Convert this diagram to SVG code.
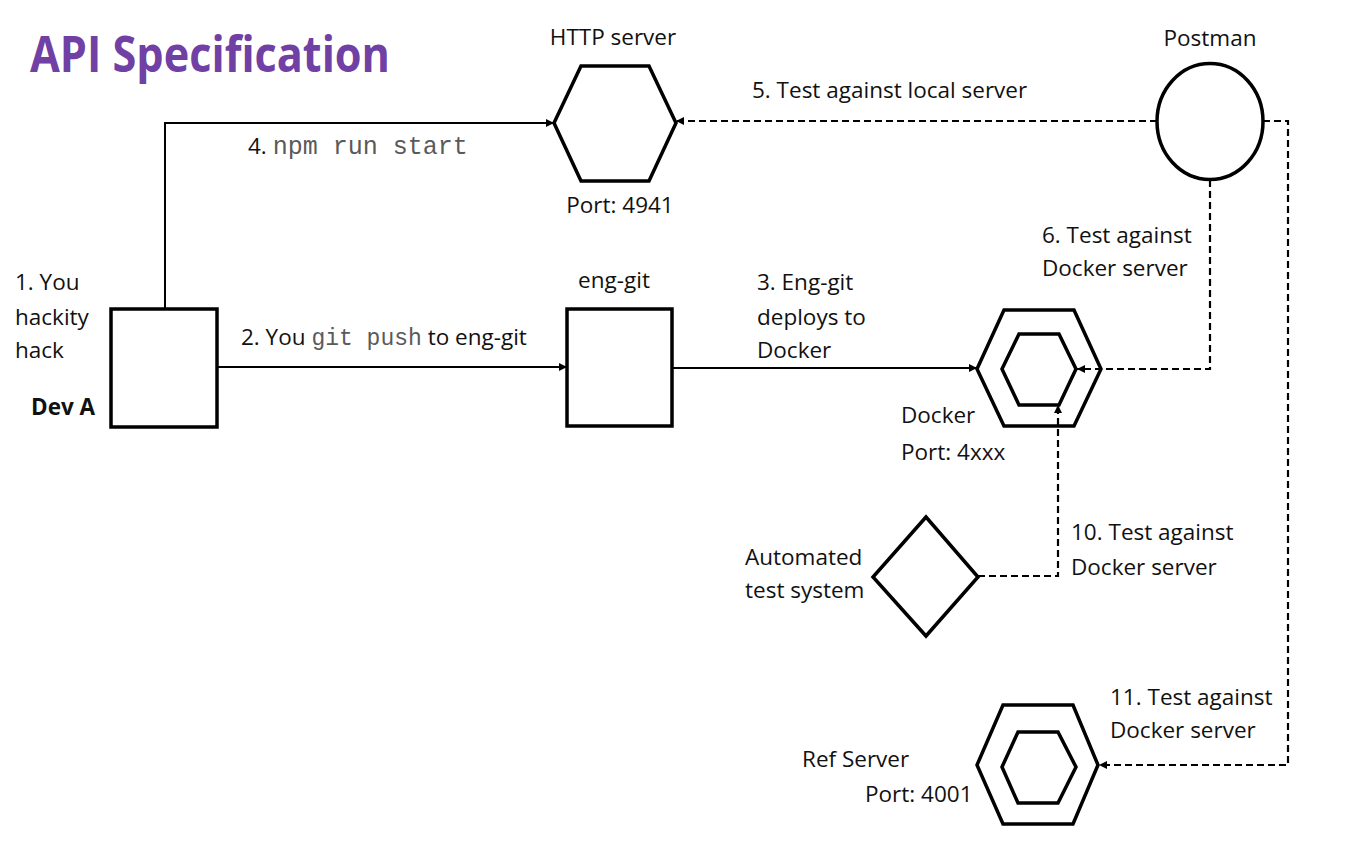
<svg xmlns="http://www.w3.org/2000/svg" width="1364" height="852" viewBox="0 0 1364 852">
<style>
  .t { font-family: "Open Sans", "Liberation Sans", sans-serif; font-size: 22.5px; fill: #111; }
  .m { font-family: "Liberation Mono", "Courier New", monospace; fill: #5a5a5a; }
  .b { font-weight: bold; }
  .shape { fill: #fff; stroke: #000; stroke-width: 3.5; stroke-linejoin: miter; }
  .solid { fill: none; stroke: #000; stroke-width: 2; }
  .dash { fill: none; stroke: #000; stroke-width: 2.2; stroke-dasharray: 7 4; }
</style>
<defs>
  <marker id="arr" viewBox="0 0 10 10" refX="10" refY="5" markerWidth="9" markerHeight="8" markerUnits="userSpaceOnUse" orient="auto">
    <path d="M0,0 L10,5 L0,10 z" fill="#000"/>
  </marker>
</defs>
<rect width="1364" height="852" fill="#fff"/>

<text x="30" y="72" font-family="'Open Sans', 'Liberation Sans', sans-serif" font-weight="bold" font-size="50" fill="#7040a5" textLength="360" lengthAdjust="spacingAndGlyphs">API Specification</text>

<g id="http-server">
  <polygon class="shape" points="554,123 581,66 649,66 676,123 649,181 581,181"/>
  <text class="t" x="613" y="45" text-anchor="middle">HTTP server</text>
  <text class="t" x="620" y="213" text-anchor="middle">Port: 4941</text>
</g>

<g id="postman">
  <ellipse class="shape" cx="1210" cy="121.5" rx="53" ry="58"/>
  <text class="t" x="1210" y="46" text-anchor="middle">Postman</text>
</g>

<g id="dev-a">
  <rect class="shape" x="111" y="309" width="106" height="118"/>
  <text class="t" x="15" y="290">1. You</text>
  <text class="t" x="15" y="325">hackity</text>
  <text class="t" x="15" y="358">hack</text>
  <text class="t b" x="31" y="415">Dev A</text>
</g>

<g id="eng-git">
  <rect class="shape" x="567" y="309" width="105" height="117"/>
  <text class="t" x="614" y="288" text-anchor="middle">eng-git</text>
</g>

<g id="docker">
  <polygon class="shape" points="977,369 1004,310 1074,310 1101,369 1074,426 1004,426"/>
  <polygon class="shape" points="1002,369 1019,334 1059,334 1076,369 1059,405 1019,405"/>
  <text class="t" x="901" y="423">Docker</text>
  <text class="t" x="901" y="460">Port: 4xxx</text>
</g>

<g id="automated-test">
  <polygon class="shape" points="926,517 978,577 926,636 873,577"/>
  <text class="t" x="745" y="565">Automated</text>
  <text class="t" x="745" y="598">test system</text>
</g>

<g id="ref-server">
  <polygon class="shape" points="977,765 1003,705 1073,705 1098,765 1073,824 1003,824"/>
  <polygon class="shape" points="1002,767 1018,732 1058,732 1076,767 1058,803 1018,803"/>
  <text class="t" x="802" y="767">Ref Server</text>
  <text class="t" x="865" y="802">Port: 4001</text>
</g>

<g id="connectors">
  <path class="solid" d="M165,309 V123 H554" marker-end="url(#arr)"/>
  <path class="dash" d="M1157,121 H676" marker-end="url(#arr)"/>
  <path class="solid" d="M217,367 H567" marker-end="url(#arr)"/>
  <path class="solid" d="M672,368 H977" marker-end="url(#arr)"/>
  <path class="dash" d="M1210,180 V369 H1077" marker-end="url(#arr)"/>
  <path class="dash" d="M978,576 H1058 V405" marker-end="url(#arr)"/>
  <path class="dash" d="M1263,121 H1288 V765 H1099" marker-end="url(#arr)"/>
</g>

<g id="labels">
  <text class="t" x="248" y="154">4. <tspan class="m" font-size="25">npm run start</tspan></text>
  <text class="t" x="752" y="98">5. Test against local server</text>
  <text class="t" x="241" y="345">2. You <tspan class="m" font-size="23">git push</tspan> to eng-git</text>
  <text class="t" x="757" y="290">3. Eng-git</text>
  <text class="t" x="757" y="325">deploys to</text>
  <text class="t" x="757" y="358">Docker</text>
  <text class="t" x="1042" y="243">6. Test against</text>
  <text class="t" x="1042" y="276">Docker server</text>
  <text class="t" x="1071" y="540">10. Test against</text>
  <text class="t" x="1071" y="575">Docker server</text>
  <text class="t" x="1110" y="705">11. Test against</text>
  <text class="t" x="1110" y="738">Docker server</text>
</g>
</svg>
